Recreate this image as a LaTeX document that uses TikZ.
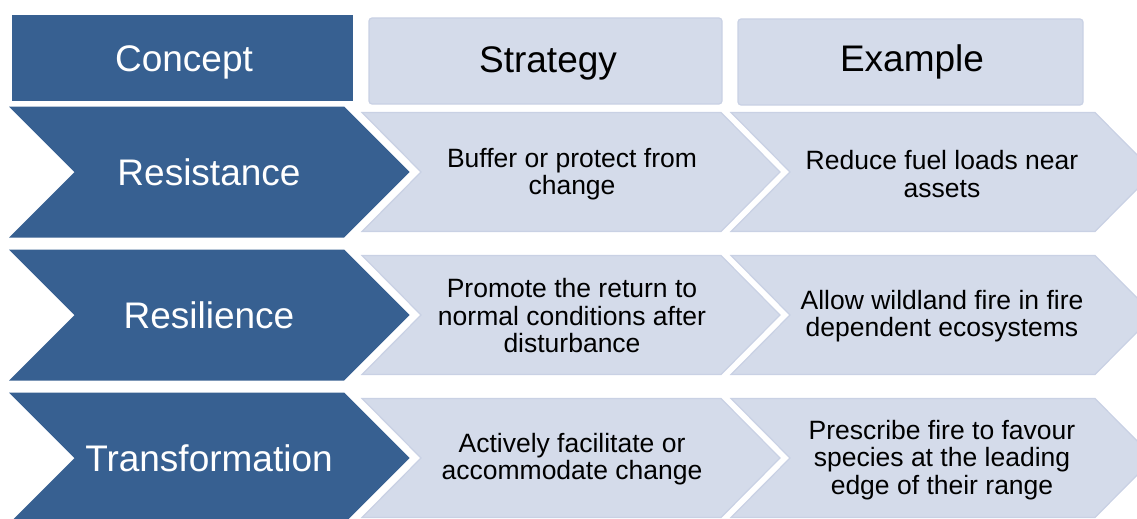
\documentclass[tikz,border=0pt]{standalone}
\usepackage{fontspec}
\setmainfont{Liberation Sans}
\usepackage{xcolor}

\definecolor{conceptblue}{RGB}{55,96,145}
\definecolor{palefill}{RGB}{212,219,234}
\definecolor{paleedge}{RGB}{201,209,228}

\begin{document}
\begin{tikzpicture}[x=1pt, y=-1pt,
    dark/.style = {fill=conceptblue},
    pale/.style = {fill=palefill, draw=paleedge, line width=1.2pt},
    head/.style = {font=\fontsize{37}{40}\selectfont, inner sep=0pt},
    body/.style = {font=\fontsize{26.5}{27.5}\selectfont, align=center, inner sep=0pt}]
  \useasboundingbox (0,0) rectangle (1137,519);
  \clip (0,0) rectangle (1137,519);

  % header row
  \path[dark] (12,15) rectangle (353,101);
  \path[pale, rounded corners=3pt] (369,18) rectangle (722,104);
  \path[pale, rounded corners=3pt] (738,19) rectangle (1083,105);

  % concept chevrons
  \path[dark] (9,106.5) -- ++(335,0) -- ++(65.5,65.5) -- ++(-65.5,65.5) -- ++(-335,0) -- ++(65.5,-65.5) -- cycle;
  \path[dark] (9,249.5) -- ++(335,0) -- ++(65.5,65.5) -- ++(-65.5,65.5) -- ++(-335,0) -- ++(65.5,-65.5) -- cycle;
  \path[dark] (9,392.5) -- ++(335,0) -- ++(65.5,65.5) -- ++(-65.5,65.5) -- ++(-335,0) -- ++(65.5,-65.5) -- cycle;

  % strategy chevrons
  \path[pale] (362,112.5) -- ++(359,0) -- ++(59,59.5) -- ++(-59,59.5) -- ++(-359,0) -- ++(59,-59.5) -- cycle;
  \path[pale] (362,255.5) -- ++(359,0) -- ++(59,59.5) -- ++(-59,59.5) -- ++(-359,0) -- ++(59,-59.5) -- cycle;
  \path[pale] (362,398.5) -- ++(359,0) -- ++(59,59.5) -- ++(-59,59.5) -- ++(-359,0) -- ++(59,-59.5) -- cycle;

  % example chevrons
  \path[pale] (731,112.5) -- ++(364,0) -- ++(59,59.5) -- ++(-59,59.5) -- ++(-364,0) -- ++(59,-59.5) -- cycle;
  \path[pale] (731,255.5) -- ++(364,0) -- ++(59,59.5) -- ++(-59,59.5) -- ++(-364,0) -- ++(59,-59.5) -- cycle;
  \path[pale] (731,398.5) -- ++(364,0) -- ++(59,59.5) -- ++(-59,59.5) -- ++(-364,0) -- ++(59,-59.5) -- cycle;

  % labels
  \node[head, text=white] (concept) at (184,62) {Concept};
  \node[head] (strategy) at (548,63) {Strategy};
  \node[head] (example) at (912,62) {Example};

  \node[head, text=white] (resist) at (209,172) {Resistance};
  \node[head, text=white] (resil) at (209,315) {Resilience};
  \node[head, text=white] (trans) at (209,458) {Transformation};

  \node[body] (s1) at (572,174) {Buffer or protect from\\change};
  \node[body] (s2) at (572,316) {Promote the return to\\normal conditions after\\disturbance};
  \node[body] (s3) at (572,459) {Actively facilitate or\\accommodate change};

  \node[body] (e1) at (942,174) {Reduce fuel loads near\\assets};
  \node[body] (e2) at (942,316) {Allow wildland fire in fire\\dependent ecosystems};
  \node[body] (e3) at (942,460) {Prescribe fire to favour\\species at the leading\\edge of their range};
\end{tikzpicture}
\end{document}
